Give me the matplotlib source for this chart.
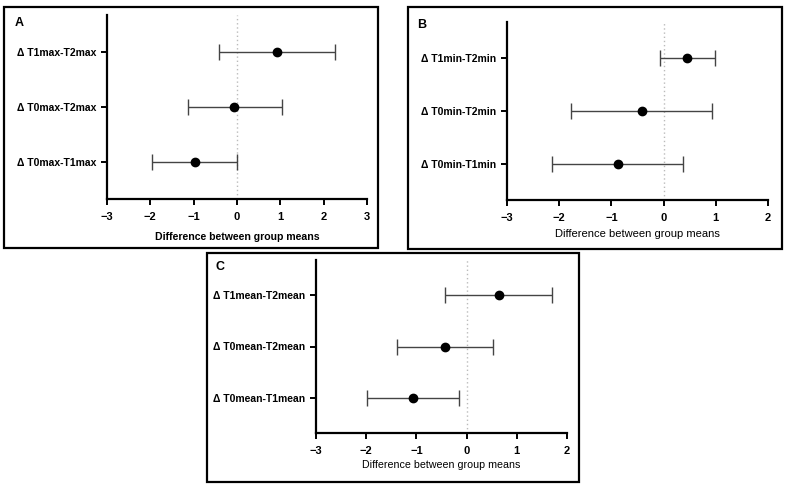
import matplotlib.pyplot as plt
from matplotlib.patches import Rectangle

plt.rcParams["font.family"] = ["Liberation Sans", "DejaVu Sans"]

# --- values (difference, CI low, CI high), bottom to top ---
labels_a = ["Δ T0max-T1max", "Δ T0max-T2max", "Δ T1max-T2max"]
diff_a = [-0.98, -0.06, 0.93]
low_a = [-1.97, -1.14, -0.41]
high_a = [0.01, 1.03, 2.26]

labels_b = ["Δ T0min-T1min", "Δ T0min-T2min", "Δ T1min-T2min"]
diff_b = [-0.88, -0.42, 0.45]
low_b = [-2.14, -1.78, -0.07]
high_b = [0.38, 0.93, 0.98]

labels_c = ["Δ T0mean-T1mean", "Δ T0mean-T2mean", "Δ T1mean-T2mean"]
diff_c = [-1.07, -0.44, 0.64]
low_c = [-1.99, -1.38, -0.44]
high_c = [-0.16, 0.52, 1.71]

xticks_a = [-3, -2, -1, 0, 1, 2, 3]
xticks_bc = [-3, -2, -1, 0, 1, 2]

W, H = 787, 488
fig = plt.figure(figsize=(W / 100, H / 100), dpi=100)


def px_rect(x0, y0, x1, y1):
    # pixel box (top-left origin) -> figure fraction [left, bottom, width, height]
    return [x0 / W, 1 - y1 / H, (x1 - x0) / W, (y1 - y0) / H]


def frame(x0, y0, x1, y1):
    l, b, w, h = px_rect(x0, y0, x1, y1)
    fig.patches.append(Rectangle((l, b), w, h, transform=fig.transFigure,
                                 fill=False, edgecolor="black", linewidth=1.6))


def panel(box, letter, letter_xy, labels, diff, low, high, xticks, bold_xlabel, xl_size, xl_pad):
    ax = fig.add_axes(px_rect(*box))
    ypos = list(range(1, len(labels) + 1))
    xerr = [[d - lo for d, lo in zip(diff, low)], [hi - d for d, hi in zip(diff, high)]]
    ax.axvline(0, color="#bbbbbb", linestyle=(0, (1, 2)), linewidth=1.0, zorder=0)
    ax.errorbar(diff, ypos, xerr=xerr, fmt="o", color="black", markersize=6,
                ecolor="#444444", elinewidth=1.0, capsize=5.5, capthick=1.0)
    ax.set_xlim(xticks[0], xticks[-1])
    ax.set_ylim(0.33, 3.67)
    ax.set_xticks(xticks)
    ax.set_xticklabels([str(t).replace("-", "\u2212") for t in xticks],
                       fontweight="bold", fontsize=8)
    ax.set_yticks(ypos)
    ax.set_yticklabels(labels, fontweight="bold", fontsize=7.5)
    ax.set_xlabel("Difference between group means", fontsize=xl_size,
                  fontweight="bold" if bold_xlabel else "normal", labelpad=xl_pad)
    for s in ["top", "right"]:
        ax.spines[s].set_visible(False)
    for s in ["left", "bottom"]:
        ax.spines[s].set_linewidth(1.6)
    ax.tick_params(axis="both", length=4.5, width=1.4)
    ax.tick_params(axis="x", pad=5)
    ax.tick_params(axis="y", pad=3)
    fig.text(letter_xy[0] / W, 1 - letter_xy[1] / H, letter, fontsize=9,
             fontweight="bold", ha="left", va="center")
    return ax


frame(4, 7, 378, 248)
frame(408, 7, 782, 249)
frame(207, 253, 579, 482)

panel((107, 15, 367, 199), "A", (15, 23), labels_a, diff_a, low_a, high_a, xticks_a, True, 7.6, 7)
panel((507, 22, 768, 200), "B", (417, 25), labels_b, diff_b, low_b, high_b, xticks_bc, False, 8, 4)
panel((316, 260, 567, 433), "C", (215, 267), labels_c, diff_c, low_c, high_c, xticks_bc, False, 7.7, 3)

fig.savefig("out.png", dpi=100)
